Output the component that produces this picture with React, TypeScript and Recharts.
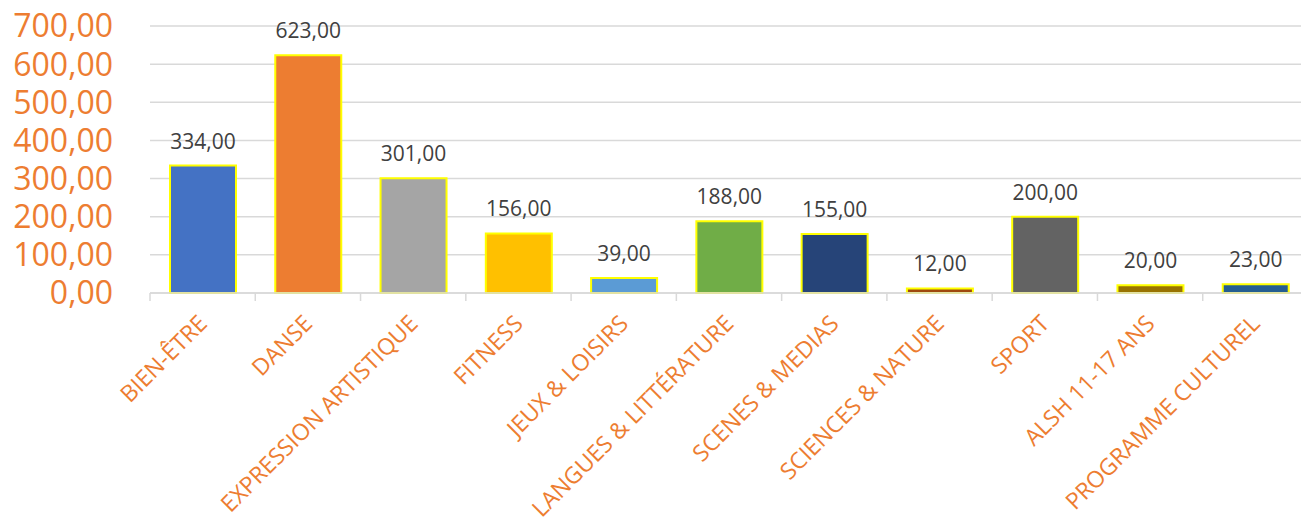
import { BarChart, Bar, XAxis, YAxis, CartesianGrid, LabelList, Cell } from 'recharts';

const categories = [
  'BIEN-ÊTRE',
  'DANSE',
  'EXPRESSION ARTISTIQUE',
  'FITNESS',
  'JEUX & LOISIRS',
  'LANGUES & LITTÉRATURE',
  'SCENES & MEDIAS',
  'SCIENCES & NATURE',
  'SPORT',
  'ALSH 11-17 ANS',
  'PROGRAMME CULTUREL',
];
const values = [334, 623, 301, 156, 39, 188, 155, 12, 200, 20, 23];
const barColors = [
  '#4472C4', '#ED7D31', '#A5A5A5', '#FFC000', '#5B9BD5', '#70AD47',
  '#264478', '#9E480E', '#636363', '#997300', '#255E91',
];
const yTicks = [0, 100, 200, 300, 400, 500, 600, 700];

const data = categories.map((name, i) => ({ name, value: values[i] }));

const ORANGE = '#ED7D31';
const GRID = '#d9d9d9';
const FONT = '"Open Sans", sans-serif';

const fmt = (v: number) => v.toFixed(2).replace('.', ',');

// rotated category label plus the boundary tick marks between categories
const CategoryTick = (props: any) => {
  const { x, y, payload, index, visibleTicksCount } = props;
  const half = 1158 / categories.length / 2;
  const axisY = y - 8;
  const tx = x + 6;
  const ty = y + 24;
  return (
    <g>
      <line x1={x - half} y1={axisY} x2={x - half} y2={axisY + 8} stroke={GRID} strokeWidth={1.5} />
      {index === visibleTicksCount - 1 && (
        <line x1={x + half} y1={axisY} x2={x + half} y2={axisY + 8} stroke={GRID} strokeWidth={1.5} />
      )}
      <text
        x={tx}
        y={ty}
        transform={`rotate(-45, ${tx}, ${ty})`}
        textAnchor="end"
        fill={ORANGE}
        fontSize={23}
        fontFamily={FONT}
      >
        {payload.value}
      </text>
    </g>
  );
};

export default function App() {
  return (
    <div style={{ position: 'fixed', left: 0, top: 0, width: 1301, height: 519, overflow: 'hidden', background: '#fff' }}>
      <BarChart
        width={1310}
        height={519}
        data={data}
        margin={{ top: 26, right: 2, left: 0, bottom: 0 }}
      >
        <CartesianGrid vertical={false} stroke={GRID} strokeWidth={1.5} />
        <XAxis
          dataKey="name"
          interval={0}
          height={226}
          tickLine={false}
          axisLine={{ stroke: GRID, strokeWidth: 1.5 }}
          tick={<CategoryTick />}
        />
        <YAxis
          width={150}
          domain={[0, 700]}
          ticks={yTicks}
          interval={0}
          axisLine={false}
          tickLine={false}
          tickSize={0}
          tickMargin={37}
          tickFormatter={fmt}
          tick={{ fill: ORANGE, fontSize: 32, fontFamily: FONT }}
        />
        <Bar dataKey="value" barSize={66} stroke="#FFFF00" strokeWidth={2} isAnimationActive={false}>
          {data.map((d, i) => (
            <Cell key={d.name} fill={barColors[i]} />
          ))}
          <LabelList
            dataKey="value"
            position="top"
            offset={17}
            formatter={(v: any) => fmt(Number(v))}
            fill="#404040"
            fontSize={21}
            fontFamily={FONT}
          />
        </Bar>
      </BarChart>
    </div>
  );
}
